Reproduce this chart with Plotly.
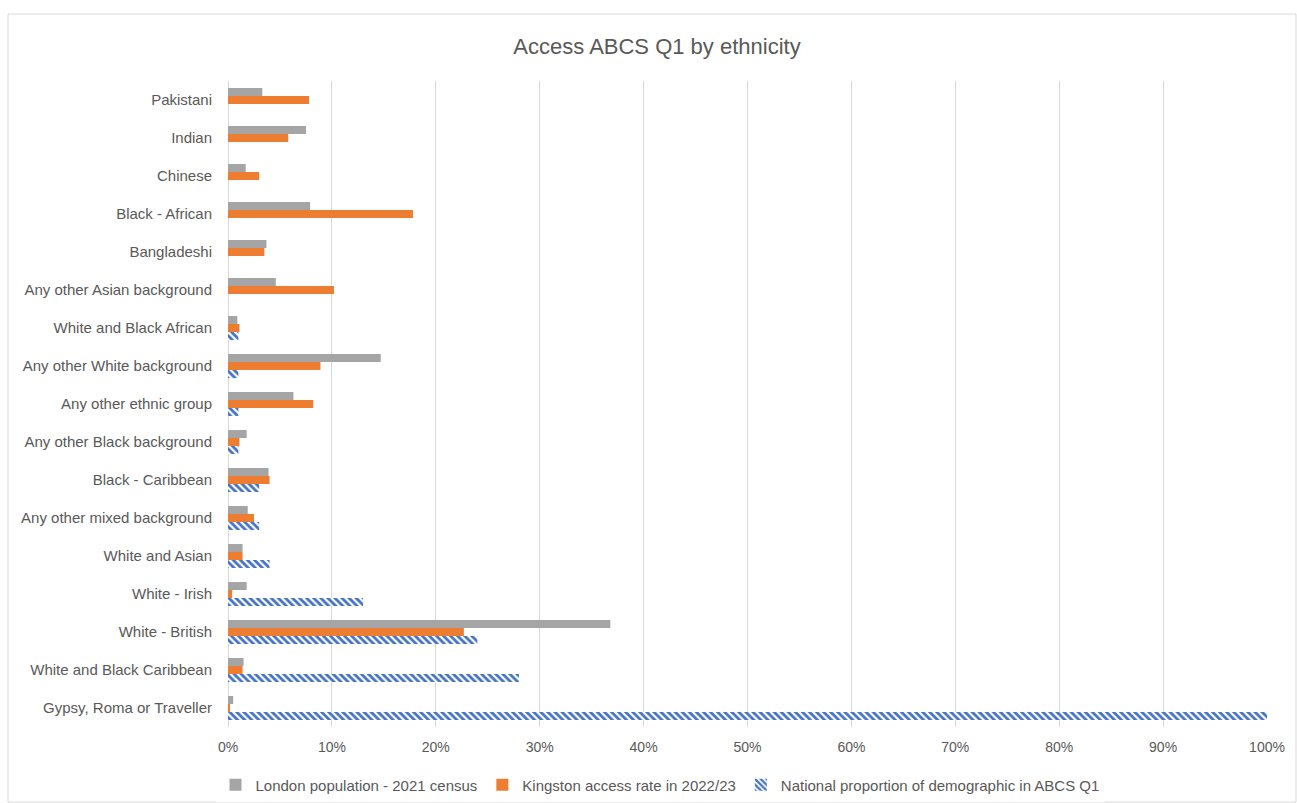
import plotly.graph_objects as go

categories = ["Gypsy, Roma or Traveller", "White and Black Caribbean", "White - British",
              "White - Irish", "White and Asian", "Any other mixed background",
              "Black - Caribbean", "Any other Black background", "Any other ethnic group",
              "Any other White background", "White and Black African",
              "Any other Asian background", "Bangladeshi", "Black - African",
              "Chinese", "Indian", "Pakistani"]

london_2021 = [0.005, 0.015, 0.368, 0.018, 0.014, 0.019, 0.039, 0.018, 0.063, 0.147,
               0.009, 0.046, 0.037, 0.079, 0.017, 0.075, 0.033]
kingston_2223 = [0.002, 0.014, 0.227, 0.004, 0.014, 0.025, 0.040, 0.011, 0.082, 0.089,
                 0.011, 0.102, 0.035, 0.178, 0.030, 0.058, 0.078]
national_abcs = [1.00, 0.28, 0.24, 0.13, 0.04, 0.03, 0.03, 0.01, 0.01, 0.01,
                 0.01, None, None, None, None, None, None]

tick_vals = [i / 10 for i in range(11)]
tick_text = [f"{i*10}%" for i in range(11)]

txt = "#595959"
font_family = "Liberation Sans, Arial, sans-serif"

L, R, T, B = 228, 30, 81, 76
W, H = 1297, 803
pw, ph = W - L - R, H - T - B

fig = go.Figure()
fig.add_trace(go.Bar(
    y=categories, x=national_abcs, orientation="h",
    name="National proportion of demographic in ABCS Q1",
    marker=dict(color="white", line=dict(width=0),
                pattern=dict(shape="\\", fgcolor="#4472C4", bgcolor="white",
                             size=5, solidity=0.55, fillmode="overlay", fgopacity=1)),
    legendrank=3,
))
fig.add_trace(go.Bar(
    y=categories, x=kingston_2223, orientation="h",
    name="Kingston access rate in 2022/23",
    marker=dict(color="#ED7D31", line=dict(width=0)),
    legendrank=2,
))
fig.add_trace(go.Bar(
    y=categories, x=london_2021, orientation="h",
    name="London population - 2021 census",
    marker=dict(color="#A5A5A5", line=dict(width=0)),
    legendrank=1,
))

fig.update_layout(
    width=W, height=H,
    paper_bgcolor="white", plot_bgcolor="white",
    barmode="group", bargap=0.37, bargroupgap=0.0,
    margin=dict(l=L, r=R, t=T, b=B, autoexpand=False),
    title=dict(text="Access ABCS Q1 by ethnicity", x=(657 - L) / pw, xref="paper",
               xanchor="center", y=1 - 46 / H, yanchor="middle",
               font=dict(family=font_family, size=22, color=txt)),
    font=dict(family=font_family, size=15, color=txt),
    xaxis=dict(range=[0, 1.0], tickvals=tick_vals, ticktext=tick_text,
               showgrid=True, gridcolor="#D9D9D9", gridwidth=1.3,
               zeroline=True, zerolinecolor="#D9D9D9", zerolinewidth=1.3,
               showline=False, ticks="", ticklabelstandoff=10,
               tickfont=dict(size=14, color=txt)),
    yaxis=dict(type="category", categoryorder="array", categoryarray=categories,
               showgrid=False, ticks="", ticklen=0, showline=False,
               ticklabelstandoff=15,
               tickfont=dict(size=15, color=txt), automargin=False),
    legend=dict(orientation="h", x=(660 - L) / pw, xanchor="center",
                yref="container", y=1 - 785 / H, yanchor="middle",
                font=dict(size=15, color=txt), itemwidth=30, traceorder="normal"),
    shapes=[dict(type="rect", xref="paper", yref="paper",
                 x0=(8 - L) / pw, x1=(1296 - L) / pw,
                 y0=-(802 - (H - B)) / ph, y1=((H - B) - 14) / ph,
                 line=dict(color="#D9D9D9", width=1), fillcolor="rgba(0,0,0,0)", layer="below")],
)

fig.write_html("out.html")
